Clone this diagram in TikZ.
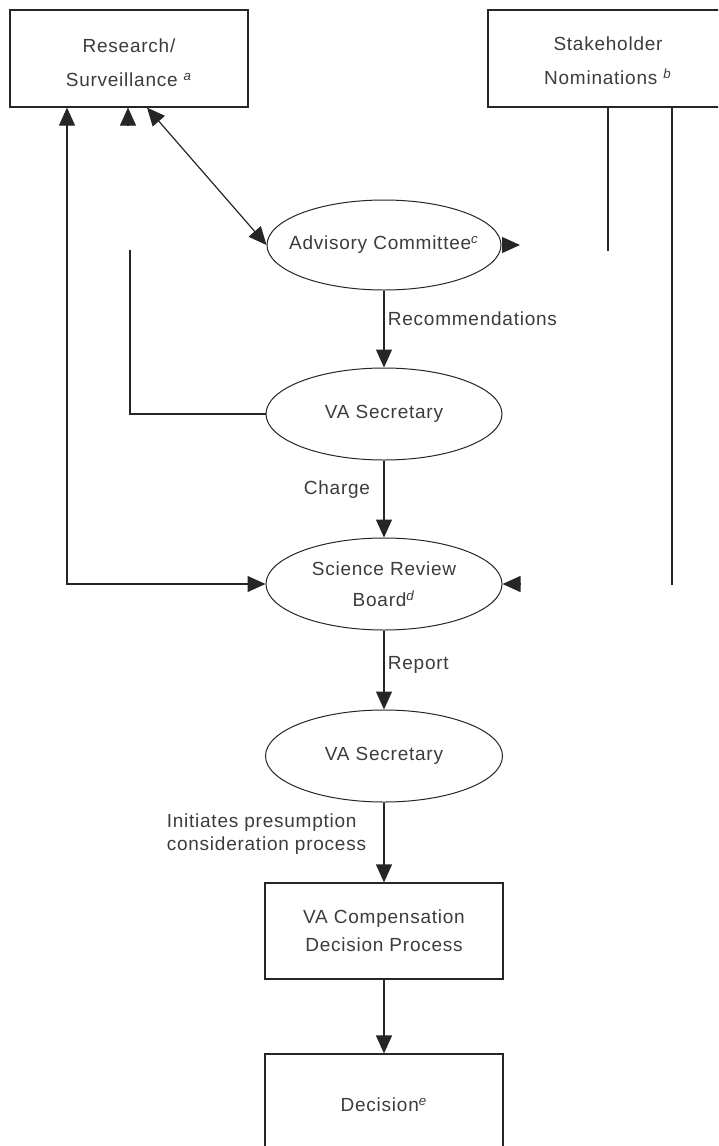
\documentclass[tikz,border=0pt]{standalone}
\usepackage{fontspec}
\setmainfont{Liberation Sans}[LetterSpace=4]
\usetikzlibrary{shapes.geometric,arrows.meta}
\definecolor{linegray}{HTML}{262626}
\definecolor{textgray}{HTML}{3C3C3C}

\begin{document}
\begin{tikzpicture}[x=1pt,y=-1pt,color=linegray,text=textgray,line width=1.2pt,
    font=\fontsize{19}{34}\selectfont]
  \tikzstyle{box}=[rectangle,draw,minimum width=238pt,inner sep=0pt,align=center]
  \tikzstyle{oval}=[ellipse,draw,line width=1pt,inner sep=0pt]
  \tikzstyle{arr}=[-{Triangle[length=18pt,width=16pt]}]
  \tikzstyle{arrs}=[{Triangle[length=18pt,width=16pt]}-{Triangle[length=18pt,width=16pt]}]
  \useasboundingbox (0,0) rectangle (718,1146);
  \clip (0,0) rectangle (718,1146);
  \fill[white] (0,0) rectangle (718,1146);

  \node[box,minimum height=97pt,
    label={[align=center,yshift=-4pt]center:Research/\\Surveillance \textsuperscript{\textit{a}}}] (res) at (129,58.5) {};
  \node[box,minimum height=97pt,minimum width=240pt,
    label={[align=center,yshift=-2pt]center:Stakeholder\\Nominations \textsuperscript{\textit{b}}}] (stake) at (608,58.5) {};

  \node[oval,minimum width=234pt,minimum height=90pt,
    label=center:{Advisory Committee\textsuperscript{\textit{c}}}] (adv) at (384,245) {};
  \draw[arrs] ([xshift=18pt]res.south) -- (adv.west);

  \coordinate (advtip) at (520,245);
  \draw[arr] (adv.east) -- (advtip);

  \node[oval,minimum width=236pt,minimum height=92pt,
    label=center:{VA Secretary}] (sec1) at (384,414) {};
  \draw[arr] (adv) -- (sec1) node[right,pos=0.37] {Recommendations};

  \coordinate (secup) at (130,250);
  \draw (sec1.west) -| (secup);
  \coordinate (resgap) at (128,125);
  \draw[arr] (resgap) -- (res.south -| resgap);

  \node[oval,minimum width=236pt,minimum height=92pt,
    label={[align=center,font=\fontsize{19}{31}\selectfont]center:Science Review\\Board\textsuperscript{\textit{d}}}] (srb) at (384,584) {};
  \draw[arr] (sec1) -- (srb) node[left,pos=0.38,xshift=-10pt] {Charge};

  \coordinate (leftrun) at (67,0);
  \draw[arrs] (res.south -| leftrun) |- (srb.west);

  \coordinate (nomA) at (608,251);
  \coordinate (nomB) at (672,585);
  \draw (stake.south -| nomA) -- (nomA);
  \draw (stake.south -| nomB) -- (nomB);
  \coordinate (srbtip) at (521,584);
  \draw[arr] (srbtip) -- (srb.east);

  \node[oval,minimum width=237pt,minimum height=92pt,
    label=center:{VA Secretary}] (sec2) at (384,756) {};
  \draw[arr] (srb) -- (sec2) node[right,pos=0.44] {Report};

  \node[box,minimum height=96pt,font=\fontsize{19}{28}\selectfont] (comp) at (384,931) {VA Compensation\\Decision Process};
  \draw[arr] (sec2) -- (comp) node[left,pos=0.39,xshift=-14pt,align=left,
    font=\fontsize{19}{23}\selectfont] {Initiates presumption\\consideration process};

  \node[box,minimum height=102pt] (dec) at (384,1105) {Decision\textsuperscript{\textit{e}}};
  \draw[arr] (comp) -- (dec);
\end{tikzpicture}
\end{document}
